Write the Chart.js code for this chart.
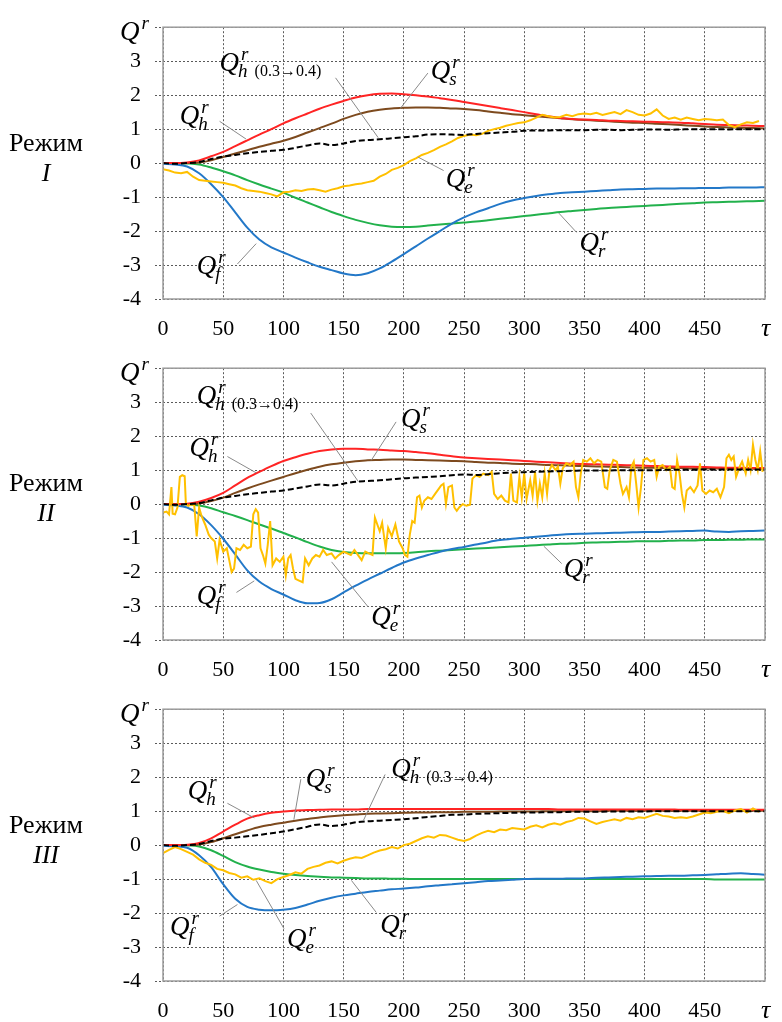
<!DOCTYPE html>
<html>
<head>
<meta charset="utf-8">
<script src="https://cdn.jsdelivr.net/npm/chart.js@4.4.0/dist/chart.umd.min.js"></script>
<style>
  body { margin: 0; background: #fff; width: 782px; height: 1022px; position: relative; overflow: hidden;
         font-family: "Liberation Serif", "Times New Roman", serif; }
  .panel { position: absolute; left: 0; width: 782px; height: 340px; }
  .mode { position: absolute; left: 0; width: 92px; text-align: center; font-size: 26px; line-height: 30px; color: #000; }
</style>
</head>
<body>
<div class="panel" style="top:0px"><canvas id="c1" width="782" height="340"></canvas></div>
<div class="panel" style="top:341px"><canvas id="c2" width="782" height="340"></canvas></div>
<div class="panel" style="top:682px"><canvas id="c3" width="782" height="340"></canvas></div>
<div class="mode" style="top:128px">Режим<br><i>I</i></div>
<div class="mode" style="top:468px">Режим<br><i>II</i></div>
<div class="mode" style="top:810px">Режим<br><i>III</i></div>

<script>
// time axis for the smooth curves and for the noisy Q_e curves
var tau = [0,10,20,30,40,50,60,70,80,90,100,110,120,130,140,150,160,170,180,190,200,
           210,220,230,240,250,260,270,280,290,300,310,320,330,340,350,360,370,380,390,400,
           410,420,430,440,450,460,470,480,490,500];
var tauE = [0,5,10,15,20,25,30,35,40,45,50,55,60,65,70,75,80,85,90,95,
            100,105,110,115,120,125,130,135,140,145,150,155,160,165,170,175,180,185,190,195,
            200,205,210,215,220,225,230,235,240,245,250,255,260,265,270,275,280,285,290,295,
            300,305,310,315,320,325,330,335,340,345,350,355,360,365,370,375,380,385,390,395,
            400,405,410,415,420,425,430,435,440,445,450,455,460,465,470,475,480,485,490,495];
var xTicks = [0,50,100,150,200,250,300,350,400,450];
var yTicks = [-4,-3,-2,-1,0,1,2,3];

// Режим I
var qhI  = [0,0,0.02,0.08,0.2,0.33,0.5,0.67,0.84,1.0,1.17,1.32,1.46,1.6,1.72,1.83,1.93,2.0,2.04,2.05,2.03,
            2.0,1.96,1.91,1.86,1.8,1.74,1.68,1.62,1.56,1.5,1.44,1.38,1.33,1.3,1.28,1.27,1.25,1.24,1.23,1.22,
            1.21,1.2,1.19,1.17,1.15,1.13,1.12,1.11,1.1,1.09];
var qsI  = [0,0,0,0.02,0.08,0.18,0.28,0.38,0.48,0.57,0.66,0.77,0.9,1.03,1.16,1.3,1.42,1.51,1.57,1.61,1.63,
            1.64,1.64,1.63,1.61,1.59,1.56,1.52,1.48,1.44,1.41,1.38,1.35,1.32,1.29,1.27,1.25,1.23,1.21,1.19,1.18,
            1.16,1.14,1.12,1.1,1.08,1.06,1.05,1.04,1.03,1.02];
var qhdI = [0,-0.02,0,0.03,0.12,0.19,0.24,0.29,0.33,0.36,0.39,0.45,0.52,0.58,0.53,0.58,0.65,0.68,0.7,0.73,0.76,
            0.79,0.84,0.85,0.84,0.83,0.86,0.88,0.9,0.92,0.95,0.96,0.96,0.97,0.97,0.97,0.98,0.98,0.97,0.98,0.99,
            0.99,0.98,0.99,1.0,1.0,1.0,0.99,1.0,1.0,1.0];
var qrI  = [0,0,-0.01,-0.04,-0.13,-0.24,-0.36,-0.5,-0.63,-0.75,-0.87,-1.02,-1.16,-1.3,-1.44,-1.56,-1.67,-1.76,-1.83,-1.87,-1.88,
            -1.87,-1.84,-1.81,-1.78,-1.75,-1.72,-1.68,-1.64,-1.6,-1.56,-1.52,-1.48,-1.44,-1.41,-1.38,-1.35,-1.32,-1.3,-1.28,-1.26,
            -1.24,-1.22,-1.2,-1.18,-1.16,-1.15,-1.14,-1.13,-1.12,-1.11];
var qfI  = [-0.02,-0.04,-0.1,-0.3,-0.62,-1.0,-1.45,-1.9,-2.25,-2.48,-2.63,-2.78,-2.92,-3.05,-3.15,-3.25,-3.3,-3.24,-3.1,-2.9,-2.68,
            -2.45,-2.22,-2.0,-1.78,-1.6,-1.45,-1.33,-1.2,-1.1,-1.03,-0.97,-0.92,-0.88,-0.86,-0.84,-0.82,-0.8,-0.78,-0.77,-0.76,
            -0.75,-0.75,-0.74,-0.74,-0.73,-0.73,-0.72,-0.72,-0.72,-0.71];
var qeI  = [-0.18,-0.22,-0.28,-0.3,-0.26,-0.4,-0.5,-0.52,-0.54,-0.56,
            -0.58,-0.62,-0.66,-0.74,-0.8,-0.82,-0.84,-0.88,-0.92,-0.98,
            -0.86,-0.84,-0.8,-0.82,-0.78,-0.76,-0.8,-0.84,-0.78,-0.74,
            -0.68,-0.66,-0.62,-0.6,-0.56,-0.52,-0.4,-0.32,-0.2,-0.14,
            -0.06,0.06,0.14,0.24,0.3,0.38,0.48,0.55,0.64,0.74,
            0.8,0.84,0.82,0.86,0.95,1.0,1.04,1.1,1.14,1.18,
            1.2,1.26,1.34,1.42,1.38,1.34,1.36,1.42,1.38,1.44,
            1.46,1.44,1.48,1.42,1.46,1.5,1.44,1.56,1.5,1.42,
            1.4,1.46,1.58,1.4,1.3,1.34,1.28,1.34,1.3,1.26,
            1.3,1.28,1.26,1.28,1.12,1.06,1.14,1.2,1.18,1.24];

// Режим II
var qhII  = [0,0,0.01,0.07,0.18,0.33,0.55,0.77,0.95,1.12,1.27,1.38,1.48,1.56,1.61,1.63,1.63,1.61,1.6,1.58,1.56,
             1.53,1.5,1.45,1.41,1.37,1.35,1.33,1.31,1.29,1.27,1.25,1.23,1.21,1.19,1.18,1.17,1.16,1.15,1.14,1.13,
             1.12,1.11,1.1,1.1,1.09,1.08,1.07,1.07,1.06,1.06];
var qsII  = [0,0,0,0.02,0.09,0.19,0.33,0.46,0.58,0.69,0.8,0.91,1.01,1.1,1.17,1.22,1.26,1.29,1.3,1.31,1.31,
             1.3,1.29,1.28,1.27,1.26,1.24,1.22,1.21,1.19,1.18,1.17,1.15,1.14,1.13,1.12,1.11,1.1,1.09,1.08,1.07,
             1.07,1.06,1.06,1.05,1.05,1.05,1.04,1.04,1.04,1.04];
var qhdII = [0,-0.02,0,0.03,0.11,0.19,0.24,0.29,0.33,0.37,0.4,0.46,0.52,0.58,0.55,0.6,0.66,0.68,0.7,0.73,0.76,
             0.78,0.8,0.82,0.85,0.87,0.86,0.88,0.91,0.93,0.94,0.95,0.96,0.97,0.98,0.99,0.99,0.99,1.0,1.0,1.0,
             1.0,1.01,1.01,1.01,1.02,1.01,1.02,1.02,1.02,1.02];
var qrII  = [0,0,-0.01,-0.04,-0.12,-0.24,-0.35,-0.47,-0.6,-0.72,-0.85,-0.98,-1.12,-1.25,-1.35,-1.41,-1.44,-1.45,-1.45,-1.45,-1.44,
             -1.42,-1.39,-1.37,-1.35,-1.33,-1.31,-1.29,-1.27,-1.25,-1.23,-1.21,-1.19,-1.17,-1.16,-1.14,-1.13,-1.12,-1.11,-1.1,-1.09,
             -1.09,-1.08,-1.07,-1.07,-1.06,-1.06,-1.05,-1.05,-1.04,-1.04];
var qfII  = [-0.02,-0.04,-0.1,-0.3,-0.62,-1.02,-1.48,-1.95,-2.28,-2.5,-2.66,-2.83,-2.92,-2.91,-2.8,-2.6,-2.4,-2.22,-2.05,-1.88,-1.72,
             -1.6,-1.5,-1.4,-1.32,-1.26,-1.19,-1.12,-1.06,-1.02,-0.99,-0.96,-0.93,-0.9,-0.88,-0.87,-0.86,-0.85,-0.84,-0.83,-0.82,
             -0.82,-0.81,-0.8,-0.79,-0.78,-0.81,-0.82,-0.8,-0.79,-0.78];
// [tau, value] pairs, the regime II signal jumps at irregular times
var qeII = [[0,-0.25],[3,-0.22],[5,-0.3],[7,0.5],[8,-0.28],[10,-0.3],[12,-0.1],[14,0.8],[16,0.85],[18,0.82],
            [19,0.0],[21,-0.05],[24,0.0],[26,-0.05],[28,-0.95],[30,-0.1],[32,-0.35],[35,-0.6],[38,-0.9],[40,-1.0],
            [43,-1.1],[45,-1.6],[47,-1.05],[50,-1.4],[53,-1.3],[55,-1.65],[57,-2.0],[59,-1.9],[61,-1.3],[64,-1.35],
            [67,-1.2],[70,-1.3],[73,-1.25],[75,-0.3],[77,-0.15],[79,-0.25],[81,-1.3],[83,-1.5],[85,-1.75],[87,-1.2],
            [89,-0.5],[91,-1.8],[94,-1.6],[97,-1.7],[100,-1.55],[102,-2.1],[104,-1.6],[106,-1.5],[108,-1.9],[110,-2.2],
            [113,-2.25],[116,-2.3],[118,-1.6],[121,-1.8],[124,-1.6],[127,-1.5],[130,-1.55],[133,-1.35],[136,-1.5],[140,-1.45],
            [143,-1.6],[146,-1.5],[150,-1.4],[153,-1.45],[156,-1.5],[159,-1.35],[162,-1.5],[165,-1.65],[168,-1.4],[171,-1.45],
            [174,-1.5],[176,-0.4],[178,-0.6],[180,-0.8],[182,-0.55],[185,-1.3],[187,-0.7],[190,-0.95],[193,-0.6],[196,-1.1],
            [199,-1.3],[201,-1.5],[203,-1.55],[205,-0.9],[207,-0.5],[209,-0.55],[211,0.2],[213,0.25],[215,-0.1],[217,0.1],
            [220,0.2],[223,0.15],[226,0.3],[229,0.45],[231,0.55],[233,0.6],[235,0.0],[237,0.5],[240,0.55],[242,-0.1],
            [244,-0.2],[246,-0.1],[249,0.0],[252,-0.05],[255,-0.02],[257,0.75],[260,0.85],[263,0.8],[266,0.9],[270,0.85],
            [273,0.95],[275,0.3],[278,0.15],[281,0.25],[284,0.1],[287,0.05],[289,0.9],[291,0.1],[294,0.05],[296,0.8],
            [298,0.2],[300,0.9],[302,0.15],[305,0.7],[307,0.25],[309,0.95],[311,0.1],[313,0.6],[315,0.2],[317,0.9],
            [319,0.3],[321,1.0],[323,1.15],[326,1.0],[328,1.1],[330,0.6],[332,1.05],[335,1.2],[338,1.15],[341,1.25],
            [343,0.5],[345,0.2],[347,0.9],[349,1.3],[352,1.25],[355,1.35],[358,1.2],[361,1.3],[364,1.25],[367,0.5],
            [369,0.45],[371,1.0],[374,1.3],[377,1.25],[380,0.6],[382,0.3],[385,0.5],[387,0.2],[389,1.1],[391,1.25],
            [393,0.6],[395,-0.1],[397,0.5],[399,1.3],[402,1.35],[405,1.25],[408,1.3],[410,0.8],[412,1.1],[415,1.15],
            [418,1.0],[421,1.1],[423,0.5],[425,0.45],[427,1.3],[429,0.9],[431,0.3],[433,-0.1],[435,0.4],[438,0.5],
            [441,0.35],[444,0.55],[446,1.2],[448,0.4],[451,0.3],[454,0.4],[457,0.35],[460,0.45],[463,0.2],[466,0.5],
            [468,1.35],[470,1.45],[472,1.3],[474,1.4],[476,0.8],[479,1.1],[481,1.25],[484,0.9],[486,1.3],[488,1.0],
            [490,1.75],[492,1.3],[494,1.0],[496,1.55],[498,0.95]];

// Режим III
var qhIII  = [0,0,0.01,0.06,0.2,0.4,0.6,0.78,0.88,0.95,0.99,1.02,1.03,1.04,1.05,1.05,1.05,1.06,1.06,1.06,1.06,
              1.06,1.06,1.06,1.06,1.06,1.06,1.06,1.06,1.06,1.06,1.06,1.06,1.05,1.05,1.05,1.05,1.05,1.05,1.05,1.05,
              1.05,1.05,1.04,1.04,1.04,1.04,1.04,1.04,1.04,1.04];
var qsIII  = [0,0,0,0.02,0.09,0.2,0.32,0.43,0.53,0.6,0.66,0.72,0.77,0.81,0.85,0.88,0.9,0.92,0.93,0.94,0.95,
              0.96,0.96,0.97,0.97,0.98,0.98,0.98,0.99,0.99,0.99,0.99,1.0,1.0,1.0,1.0,1.0,1.01,1.01,1.01,1.01,
              1.01,1.01,1.01,1.01,1.01,1.01,1.01,1.01,1.01,1.01];
var qhdIII = [0,-0.02,0,0.03,0.12,0.19,0.22,0.26,0.3,0.35,0.4,0.47,0.54,0.61,0.56,0.6,0.67,0.7,0.72,0.74,0.76,
              0.79,0.83,0.86,0.89,0.9,0.92,0.93,0.94,0.95,0.96,0.96,0.97,0.97,0.98,0.98,0.98,0.99,0.99,0.99,0.99,
              1.0,1.0,1.0,1.0,1.0,1.0,1.0,1.0,1.0,1.0];
var qrIII  = [0,0,-0.01,-0.04,-0.15,-0.32,-0.5,-0.63,-0.72,-0.79,-0.84,-0.88,-0.91,-0.93,-0.95,-0.96,-0.97,-0.98,-0.98,-0.99,-0.99,
              -1.0,-1.0,-1.0,-1.0,-1.0,-1.0,-1.0,-1.0,-1.0,-1.0,-1.0,-1.0,-1.0,-1.0,-1.0,-1.0,-1.0,-1.0,-1.0,-1.0,
              -1.0,-1.0,-1.0,-1.0,-1.0,-1.01,-1.01,-1.01,-1.01,-1.01];
var qfIII  = [-0.02,-0.04,-0.08,-0.3,-0.65,-1.15,-1.58,-1.82,-1.9,-1.92,-1.9,-1.85,-1.75,-1.64,-1.55,-1.48,-1.43,-1.38,-1.34,-1.3,-1.28,
              -1.25,-1.21,-1.18,-1.15,-1.12,-1.09,-1.06,-1.04,-1.02,-1.0,-0.99,-0.99,-0.99,-0.98,-0.98,-0.96,-0.95,-0.94,-0.93,-0.92,
              -0.91,-0.9,-0.9,-0.89,-0.88,-0.86,-0.84,-0.83,-0.85,-0.87];
var qeIII  = [-0.24,-0.14,-0.06,-0.12,-0.2,-0.28,-0.42,-0.52,-0.58,-0.7,
              -0.74,-0.82,-0.86,-0.96,-0.92,-1.02,-0.98,-1.06,-1.12,-1.0,
              -0.94,-0.88,-0.8,-0.84,-0.7,-0.64,-0.6,-0.52,-0.48,-0.54,
              -0.46,-0.4,-0.36,-0.38,-0.3,-0.22,-0.16,-0.12,-0.06,-0.1,
              0.0,0.04,0.12,0.2,0.26,0.22,0.3,0.28,0.22,0.16,
              0.12,0.18,0.28,0.36,0.42,0.38,0.46,0.44,0.5,0.48,
              0.46,0.54,0.58,0.52,0.6,0.64,0.6,0.68,0.72,0.8,
              0.78,0.7,0.62,0.68,0.72,0.76,0.72,0.8,0.76,0.82,
              0.8,0.86,0.92,0.86,0.84,0.8,0.82,0.8,0.84,0.9,
              0.96,0.94,0.98,1.0,0.94,1.02,1.06,0.96,1.08,0.98];

var colors = {
    red: '#ff2424',
    brown: '#7d4a1e',
    black: '#000000',
    green: '#22b14c',
    blue: '#2378c8',
    yellow: '#ffc000',
    grid: '#5a5a5a',
    frame: '#9c9c9c',
    leader: '#8a8a8a'
};
var serif = '"Liberation Serif", "Times New Roman", serif';

// label text and leader lines, placed in (tau, Q) units
var notesI = [
    {sub: 'h', tag: '(0.3\u21920.4)', at: [47, 2.71], from: [143.3, 2.51], to: [178.7, 0.75]},
    {sub: 'h', at: [14, 1.14], from: [47, 1.23], to: [68.9, 0.71]},
    {sub: 's', at: [222.4, 2.48], from: [220, 2.65], to: [196.9, 1.6]},
    {sub: 'e', at: [234.8, -0.7], from: [233.1, -0.22], to: [211.7, 0.18]},
    {sub: 'r', at: [346, -2.58], from: [343.5, -2.04], to: [328.7, -1.47]},
    {sub: 'f', at: [28, -3.26], from: [61.8, -2.97], to: [77.4, -2.37]}
];
var notesII = [
    {sub: 'h', tag: '(0.3\u21920.4)', at: [28, 2.94], from: [122.7, 2.68], to: [162.3, 0.66]},
    {sub: 'h', at: [22, 1.43], from: [53.5, 1.4], to: [77.4, 0.92]},
    {sub: 's', at: [197.7, 2.28], from: [193.6, 2.42], to: [173, 1.29]},
    {sub: 'e', at: [173, -3.57], from: [170.5, -3.03], to: [140, -1.7]},
    {sub: 'r', at: [332.8, -2.15], from: [331.1, -1.75], to: [316.3, -1.24]},
    {sub: 'f', at: [28, -2.94], from: [61, -2.6], to: [75.8, -2.26]}
];
var notesIII = [
    {sub: 'h', at: [20.6, 1.35], from: [53.5, 1.23], to: [75.8, 0.8]},
    {sub: 's', at: [118.6, 1.71], from: [114.5, 1.94], to: [108.7, 0.75]},
    {sub: 'h', tag: '(0.3\u21920.4)', at: [189.5, 2.0], from: [184.5, 2.08], to: [166.4, 0.72]},
    {sub: 'f', at: [5.8, -2.64], from: [47, -2.09], to: [61.8, -1.75]},
    {sub: 'e', at: [103, -3.0], from: [100.5, -2.46], to: [77.4, -1.04]},
    {sub: 'r', at: [180.4, -2.58], from: [177.1, -1.98], to: [156.5, -1.04]}
];

function pts(xs, ys) {
    return ys.map(function (v, i) { return {x: xs[i], y: v}; });
}
function pairs(list) {
    return list.map(function (p) { return {x: p[0], y: p[1]}; });
}

function drawQ(ctx, x, y, sub, tag) {
    ctx.fillStyle = '#000';
    ctx.textAlign = 'left';
    ctx.textBaseline = 'alphabetic';
    ctx.font = 'italic 27px ' + serif;
    ctx.fillText('Q', x, y);
    var w = ctx.measureText('Q').width;
    ctx.font = 'italic 19px ' + serif;
    ctx.fillText('r', x + w + 2, y - 11);
    if (sub) {
        ctx.fillText(sub, x + w - 1, y + 6);
        if (tag) {
            var sw = ctx.measureText(sub).width;
            ctx.font = '16px ' + serif;
            ctx.fillText(tag, x + w + sw + 6, y + 5);
        }
    }
}

function decor(notes) {
    return {
        id: 'decor',
        afterDatasetsDraw: function (chart) {
            var ctx = chart.ctx, a = chart.chartArea;
            var xs = chart.scales.x, ys = chart.scales.y;
            ctx.save();
            ctx.strokeStyle = colors.frame;
            ctx.lineWidth = 1.5;
            ctx.strokeRect(a.left, a.top, a.right - a.left, a.bottom - a.top);

            ctx.strokeStyle = colors.leader;
            ctx.lineWidth = 1;
            notes.forEach(function (n) {
                ctx.beginPath();
                ctx.moveTo(xs.getPixelForValue(n.from[0]), ys.getPixelForValue(n.from[1]));
                ctx.lineTo(xs.getPixelForValue(n.to[0]), ys.getPixelForValue(n.to[1]));
                ctx.stroke();
            });
            notes.forEach(function (n) {
                drawQ(ctx, xs.getPixelForValue(n.at[0]), ys.getPixelForValue(n.at[1]), n.sub, n.tag);
            });

            // axis titles: Q^r above the value axis, tau after the last time tick
            drawQ(ctx, a.left - 43, a.top + 13, '', '');
            ctx.font = 'italic 26px ' + serif;
            ctx.fillText('\u03c4', a.right - 4, a.bottom + 37);
            ctx.restore();
        }
    };
}

function line(data, color, dashed, stepped) {
    return {
        data: data,
        borderColor: color,
        borderWidth: 2,
        borderDash: dashed ? [6, 3] : [],
        pointRadius: 0,
        tension: stepped ? 0 : 0.4,
        cubicInterpolationMode: stepped ? 'default' : 'monotone',
        fill: false
    };
}

function buildChart(id, qh, qs, qhd, qr, qf, qe, notes) {
    var ctx = document.getElementById(id).getContext('2d');
    return new Chart(ctx, {
        type: 'line',
        data: {
            datasets: [
                line(qhd, colors.black, true, false),
                line(qe, colors.yellow, false, true),
                line(qh, colors.red, false, false),
                line(qs, colors.brown, false, false),
                line(qf, colors.blue, false, false),
                line(qr, colors.green, false, false)
            ]
        },
        options: {
            responsive: false,
            animation: false,
            devicePixelRatio: 1,
            layout: {padding: {top: 17, right: 12, bottom: 0, left: 0}},
            plugins: {legend: {display: false}, tooltip: {enabled: false}},
            scales: {
                x: {
                    type: 'linear',
                    min: 0,
                    max: 500,
                    afterBuildTicks: function (s) {
                        s.ticks = xTicks.concat([500]).map(function (v) { return {value: v}; });
                    },
                    afterFit: function (s) { s.height = 41; },
                    grid: {color: colors.grid, lineWidth: 1, drawTicks: false},
                    border: {display: false, dash: [2, 2]},
                    ticks: {
                        autoSkip: false,
                        maxRotation: 0,
                        padding: 17,
                        color: '#000',
                        font: {family: serif, size: 22},
                        callback: function (v) { return v === 500 ? '' : String(v); }
                    }
                },
                y: {
                    min: -4,
                    max: 4,
                    afterBuildTicks: function (s) {
                        s.ticks = yTicks.concat([4]).map(function (v) { return {value: v}; });
                    },
                    afterFit: function (s) { s.width = 163; },
                    grid: {color: colors.grid, lineWidth: 1, tickLength: 8, tickBorderDash: [2, 2]},
                    border: {display: false, dash: [2, 2]},
                    ticks: {
                        padding: 14,
                        color: '#000',
                        font: {family: serif, size: 22},
                        callback: function (v) { return v === 4 ? '' : String(v); }
                    }
                }
            }
        },
        plugins: [decor(notes)]
    });
}

buildChart('c1', pts(tau, qhI), pts(tau, qsI), pts(tau, qhdI), pts(tau, qrI), pts(tau, qfI), pts(tauE, qeI), notesI);
buildChart('c2', pts(tau, qhII), pts(tau, qsII), pts(tau, qhdII), pts(tau, qrII), pts(tau, qfII), pairs(qeII), notesII);
buildChart('c3', pts(tau, qhIII), pts(tau, qsIII), pts(tau, qhdIII), pts(tau, qrIII), pts(tau, qfIII), pts(tauE, qeIII), notesIII);
</script>
</body>
</html>
